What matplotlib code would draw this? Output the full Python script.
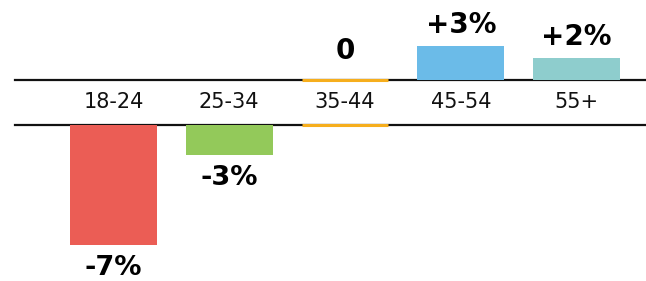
import numpy as np
import matplotlib
matplotlib.use('Agg')
import matplotlib.pyplot as plt

plt.rcParams['font.family'] = ['DejaVu Sans']

# age groups and change, bar heights as drawn in the picture (percent units)
categories = ['18-24', '25-34', '35-44', '45-54', '55+']
heights = [-10.6, -2.65, 0, 3.0, 1.95]
value_labels = ['-7%', '-3%', '0', '+3%', '+2%']
colors = ['#EB5D55', '#93C95A', '#F6AE1D', '#6BBBE8', '#8ECDCD']

gap = 3.97      # height of the label band between the two baselines
width = 0.75

fig = plt.figure(figsize=(6.46, 2.81), dpi=100)
ax = fig.add_axes([0, 0, 1, 1])
ax.set_xlim(-0.98, 4.6)
ax.set_ylim(-17.74, 7.06)
ax.axis('off')

x = np.arange(len(categories))

for xi, cat, h, c, lab in zip(x, categories, heights, colors, value_labels):
    if h > 0:
        ax.bar(xi, h, width=width, bottom=0, color=c, zorder=2)
        ax.text(xi, h + 0.6, lab, ha='center', va='bottom',
                fontsize=20, fontweight='bold', zorder=4)
    elif h < 0:
        ax.bar(xi, h, width=width, bottom=-gap, color=c, zorder=2)
        ax.text(xi, -gap + h - 0.85, lab, ha='center', va='top',
                fontsize=19.5, fontweight='bold', zorder=4)
    else:
        ax.plot([xi - width / 2, xi + width / 2], [0, 0], color=c, lw=2.2,
                solid_capstyle='butt', zorder=3)
        ax.plot([xi - width / 2, xi + width / 2], [-gap, -gap], color=c, lw=2.2,
                solid_capstyle='butt', zorder=3)
        ax.text(xi, 1.3, lab, ha='center', va='bottom',
                fontsize=20, fontweight='bold', zorder=4)
    ax.text(xi, -gap / 2, cat, ha='center', va='center', fontsize=15,
            color='#111111', zorder=4)

ax.plot([-0.85, 4.6], [0, 0], color='#111111', lw=1.6, zorder=1)
ax.plot([-0.85, 4.6], [-gap, -gap], color='#111111', lw=1.6, zorder=1)

fig.savefig('out.png', dpi=100)
